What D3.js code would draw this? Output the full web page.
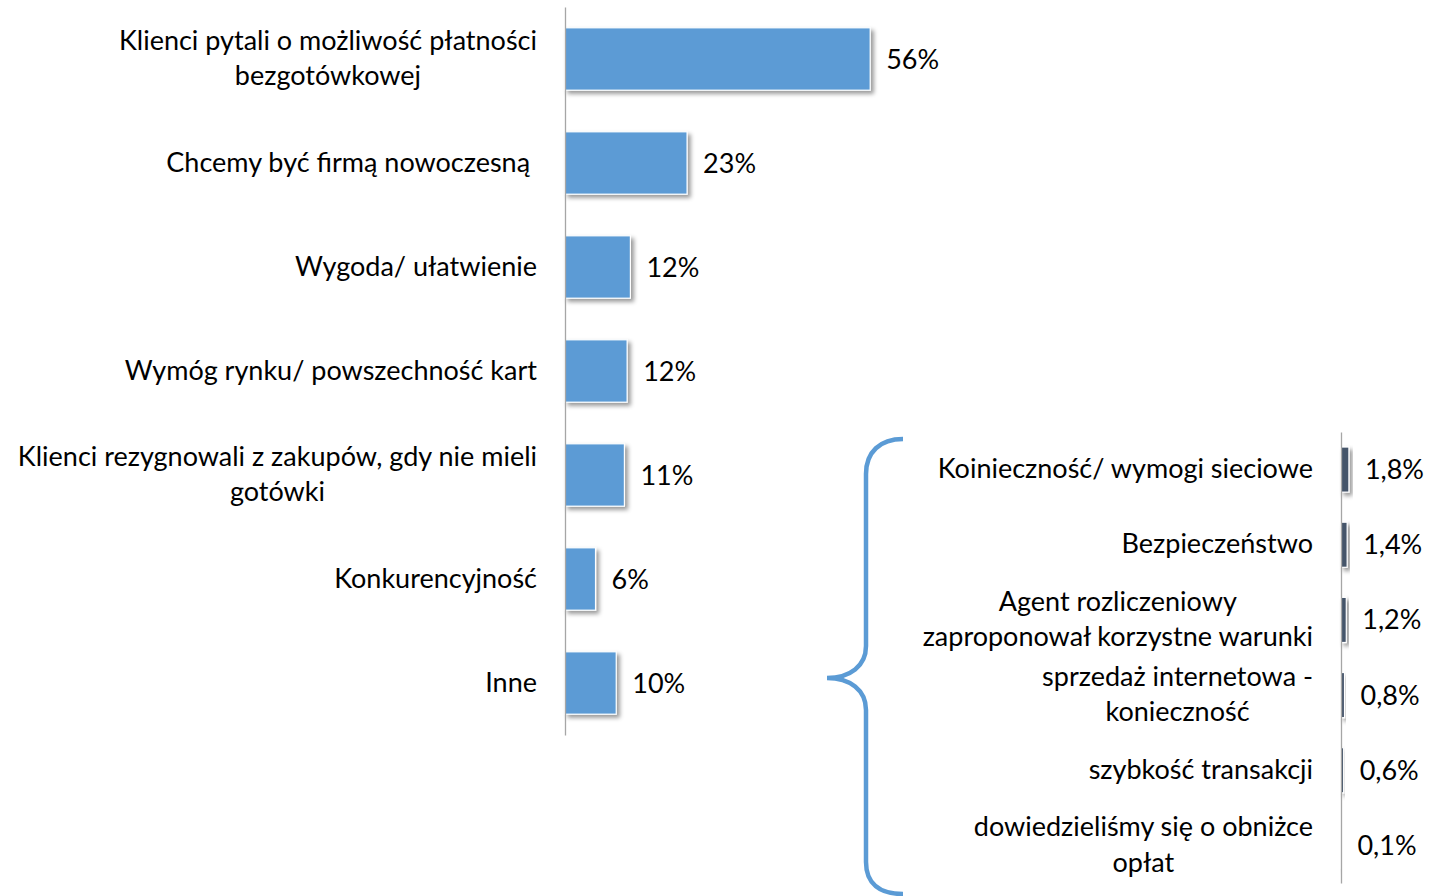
<!DOCTYPE html>
<html>
<head>
<meta charset="utf-8">
<script src="https://cdn.jsdelivr.net/npm/d3@7"></script>
<style>
    body { margin: 0; background: #fff; }
    svg { display: block; }
    text { font-family: Lato, "Open Sans", sans-serif; fill: #000; white-space: pre; }
    .axis path { stroke: #a6a6a6; stroke-width: 1.3; }
</style>
</head>
<body>
<svg id="chart"></svg>
<script>
// Main reasons (bars, labels as printed)
const mainCategories = [
    ["Klienci pytali o możliwość płatności", "bezgotówkowej"],
    ["Chcemy być firmą nowoczesną "],
    ["Wygoda/ ułatwienie"],
    ["Wymóg rynku/ powszechność kart"],
    ["Klienci rezygnowali z zakupów, gdy nie mieli", "gotówki"],
    ["Konkurencyjność"],
    ["Inne"]
];
const mainValues = [56, 22.4, 12, 11.4, 10.9, 5.6, 9.4];
const mainLabels = ["56%", "23%", "12%", "12%", "11%", "6%", "10%"];

// Breakdown of "Inne"
const otherCategories = [
    ["Koinieczność/ wymogi sieciowe"],
    ["Bezpieczeństwo"],
    ["Agent rozliczeniowy", "zaproponował korzystne warunki"],
    ["sprzedaż internetowa -", "konieczność"],
    ["szybkość transakcji"],
    ["dowiedzieliśmy się o obniżce", "opłat"]
];
const otherValues = [1.8, 1.4, 1.2, 0.8, 0.6, 0.1];
const otherLabels = ["1,8%", "1,4%", "1,2%", "0,8%", "0,6%", "0,1%"];

const width = 1430, height = 896;
const fontSize = 27, lineHeight = 35.5;

const svg = d3.select('#chart')
    .attr('width', width)
    .attr('height', height);

// soft shadow like the office chart
const filter = svg.append('defs').append('filter')
    .attr('id', 'shadow')
    .attr('x', '-20%').attr('y', '-20%')
    .attr('width', '160%').attr('height', '160%');
filter.append('feDropShadow')
    .attr('dx', 3).attr('dy', 3)
    .attr('stdDeviation', 2.2)
    .attr('flood-color', '#000')
    .attr('flood-opacity', 0.4);

function drawBars(cfg) {
    const idx = cfg.categories.map((d, i) => i);

    const yScale = d3.scaleBand()
        .domain(idx)
        .range(cfg.yRange)
        .paddingInner(0.4)
        .paddingOuter(0.2);

    const xScale = d3.scaleLinear()
        .domain([0, 100])
        .range([cfg.x0, cfg.x0 + cfg.pxPer100]);

    const g = svg.append('g');

    g.selectAll('.bar')
        .data(idx)
        .join('rect')
        .attr('class', 'bar')
        .attr('x', xScale(0))
        .attr('y', i => yScale(i))
        .attr('width', i => xScale(cfg.values[i]) - xScale(0))
        .attr('height', yScale.bandwidth())
        .attr('fill', cfg.color)
        .attr('stroke', '#fff')
        .attr('stroke-width', 1.2)
        .attr('filter', 'url(#shadow)');

    // axis line only
    const yAxis = d3.axisLeft(yScale).tickSize(0).tickSizeOuter(0).tickFormat('');
    g.append('g')
        .attr('class', 'axis')
        .attr('transform', `translate(${cfg.x0},0)`)
        .call(yAxis)
        .call(a => a.selectAll('.tick').remove());

    // value labels
    g.selectAll('.value')
        .data(idx)
        .join('text')
        .attr('class', 'value')
        .attr('x', i => xScale(cfg.values[i]) + 16)
        .attr('y', i => yScale(i) + yScale.bandwidth() / 2 - 1)
        .attr('dominant-baseline', 'central')
        .style('font-size', fontSize + 'px')
        .text(i => cfg.labels[i]);

    // category labels: block right-aligned, lines centered inside the block
    idx.forEach(i => {
        const lines = cfg.categories[i];
        const cy = yScale(i) + yScale.bandwidth() / 2 - 2;
        const label = g.append('g');
        const texts = label.selectAll('text')
            .data(lines)
            .join('text')
            .attr('y', (d, j) => cy + (j - (lines.length - 1) / 2) * lineHeight)
            .attr('dominant-baseline', 'central')
            .attr('text-anchor', 'middle')
            .style('font-size', fontSize + 'px')
            .text(d => d);
        const blockW = d3.max(texts.nodes(), n => n.getComputedTextLength());
        texts.attr('x', cfg.labelRight - blockW / 2);
    });
}

drawBars({
    categories: mainCategories,
    values: mainValues,
    labels: mainLabels,
    yRange: [7, 735],
    x0: 565,
    pxPer100: 545,
    labelRight: 537,
    color: '#5b9bd5'
});

drawBars({
    categories: otherCategories,
    values: otherValues,
    labels: otherLabels,
    yRange: [432, 883],
    x0: 1341,
    pxPer100: 440,
    labelRight: 1313,
    color: '#44546a'
});

// curly brace grouping the breakdown with "Inne"
const brace = d3.path();
brace.moveTo(903, 439);
brace.bezierCurveTo(880, 439, 866, 452, 866, 474);
brace.lineTo(866, 646);
brace.bezierCurveTo(866, 666, 850, 678, 827, 678);
brace.bezierCurveTo(850, 678, 866, 690, 866, 710);
brace.lineTo(866, 862);
brace.bezierCurveTo(866, 884, 880, 894, 903, 894);

svg.append('path')
    .attr('d', brace.toString())
    .attr('fill', 'none')
    .attr('stroke', '#5b9bd5')
    .attr('stroke-width', 4.5);
</script>
</body>
</html>
